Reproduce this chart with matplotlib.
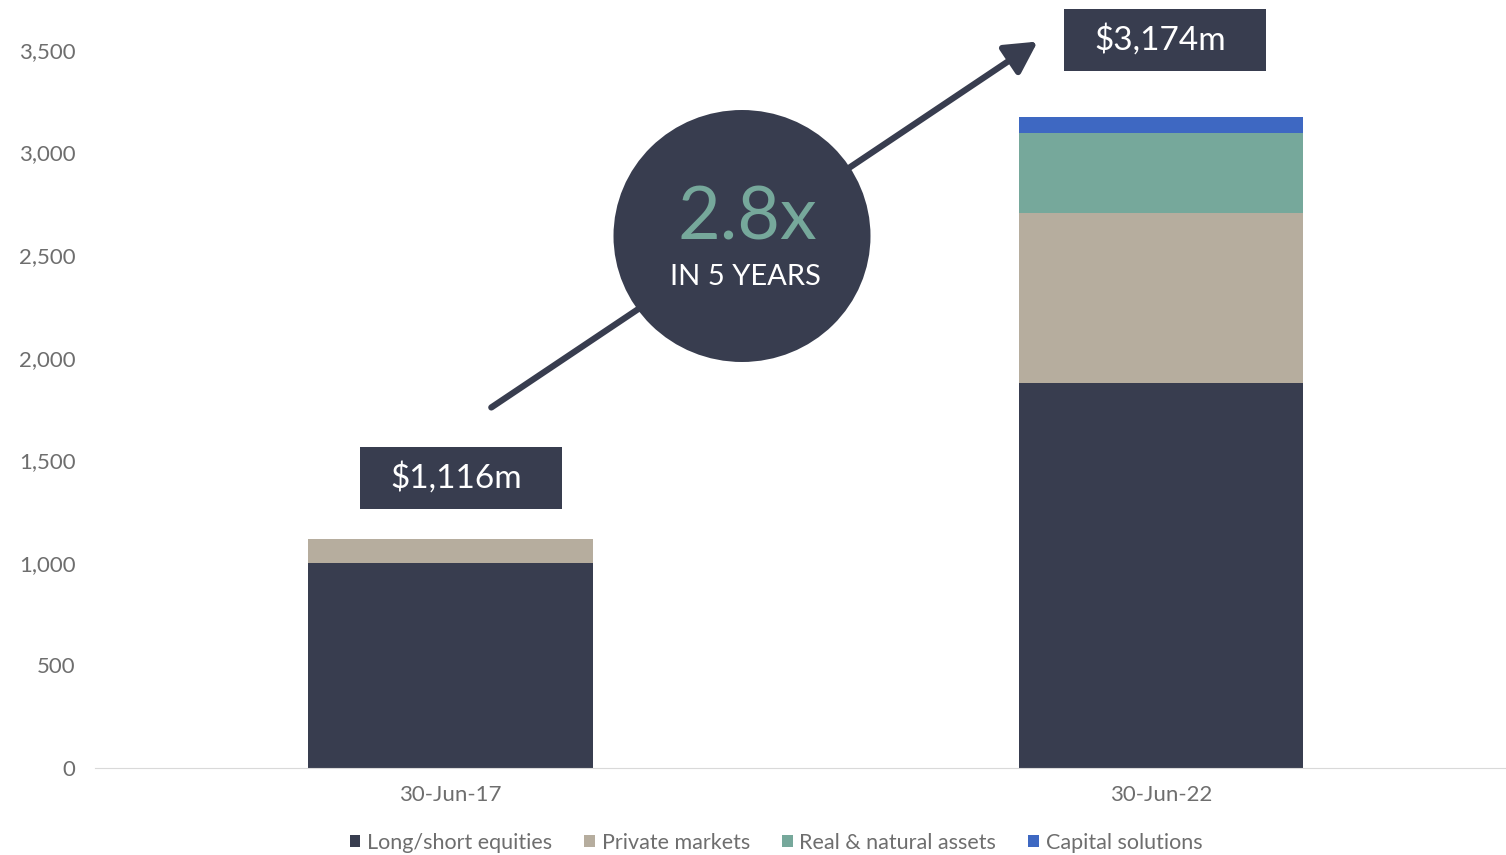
import matplotlib.pyplot as plt
from matplotlib.patches import Ellipse, Rectangle, FancyArrowPatch
import numpy as np

categories = ['30-Jun-17', '30-Jun-22']
long_short = [1000, 1877]
private_mkts = [116, 829]
real_assets = [0, 390]
capital_sol = [0, 78]
totals = ['$1,116m', '$3,174m']
series_names = ['Long/short equities', 'Private markets', 'Real & natural assets', 'Capital solutions']
colors = ['#383d4f', '#b6ad9e', '#76a89b', '#3e68c2']

plt.rcParams['font.family'] = ['Lato', 'DejaVu Sans']
W, H = 1506, 855
grey = '#6e6e6e'


def fx(px):
    return px / W


def fy(py):
    return 1 - py / H


fig = plt.figure(figsize=(15.06, 8.55), dpi=100)
ax = fig.add_axes([fx(95), 87 / H, 1411 / W, 718 / H])

x = np.arange(len(categories))
bottom = np.zeros(len(categories))
for vals, name, c in zip([long_short, private_mkts, real_assets, capital_sol], series_names, colors):
    ax.bar(x, vals, width=0.4, bottom=bottom, color=c, label=name)
    bottom += np.array(vals)

ax.set_xlim(-0.5, 1.485)
ax.set_ylim(0, 3500)
ax.set_yticks(range(0, 3501, 500))
ax.set_yticklabels([f'{v:,}' for v in range(0, 3501, 500)])
ax.set_xticks(x)
ax.set_xticklabels(categories)
ax.tick_params(length=0, labelsize=16, labelcolor=grey)
ax.tick_params(axis='y', pad=14)
ax.tick_params(axis='x', pad=12)
for s in ['top', 'right', 'left']:
    ax.spines[s].set_visible(False)
ax.spines['bottom'].set_color('#d9d9d9')

# total labels in dark boxes
for (x0, y0), lab in zip([(360, 447), (1064, 9)], totals):
    fig.add_artist(Rectangle((fx(x0), fy(y0 + 62)), 202 / W, 62 / H, transform=fig.transFigure,
                             fc='#383d4f', ec='none'))
    fig.text(fx(x0 + 96), fy(y0 + 31), lab, ha='center', va='center', fontsize=24, color='white')

# arrow
fig.add_artist(FancyArrowPatch((fx(489), fy(409)), (fx(1040), fy(40)), transform=fig.transFigure,
                               arrowstyle='-|>,head_length=12,head_width=6.5', mutation_scale=1.6,
                               lw=4.5, color='#383d4f'))

# circle
fig.add_artist(Ellipse((fx(742), fy(236)), 257 / W, 252 / H, transform=fig.transFigure,
                       fc='#383d4f', ec='none', zorder=5))
fig.text(fx(747), fy(219), '2.8x', ha='center', va='center', fontsize=53, color='#76a89b', zorder=6)
fig.text(fx(745), fy(277), 'IN 5 YEARS', ha='center', va='center', fontsize=21, color='white', zorder=6)

leg = fig.legend(loc='center', bbox_to_anchor=(fx(776), fy(843)), ncol=4, frameon=False,
                 fontsize=15.5, handlelength=0.5, handleheight=0.5, handletextpad=0.3, columnspacing=1.5)
for t in leg.get_texts():
    t.set_color(grey)

fig.savefig('out.png', dpi=100)
